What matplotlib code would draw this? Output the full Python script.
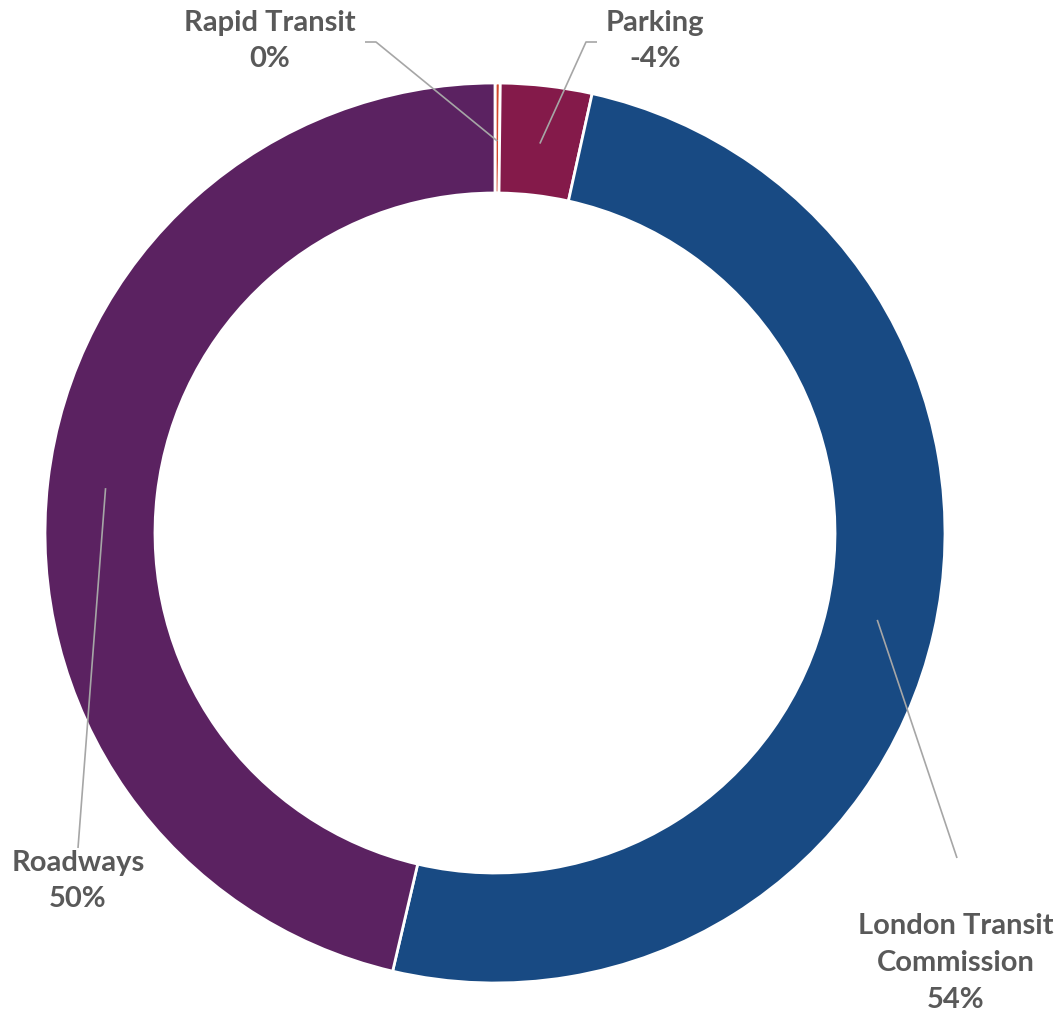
import numpy as np
import matplotlib.pyplot as plt

# budget share by service area (signed values, parking is negative)
categories = ["Rapid Transit", "Parking", "London Transit\nCommission", "Roadways"]
values = [0.2, -3.5, 53.6, 49.5]
colors = ["#D2462A", "#841A4A", "#184A83", "#5B2261"]

W, H = 1061, 1018
CX, CY = 495, H - 533
R_OUT, R_IN = 450, 340

fig = plt.figure(figsize=(W / 100, H / 100), dpi=100)
ax = fig.add_axes([0, 0, 1, 1])

sizes = np.abs(values)
wedges, _ = ax.pie(sizes, colors=colors, startangle=90, counterclock=False,
                   center=(CX, CY), radius=R_OUT, frame=True,
                   wedgeprops=dict(width=R_OUT - R_IN, edgecolor="white", linewidth=2))
ax.set_xlim(0, W)
ax.set_ylim(0, H)
ax.axis("off")

total = sum(values)
pcts = [round(v / total * 100) for v in values]

# label text position and leader elbow (pixel coords from top-left)
label_pos = [(270, 41), (655, 41), (956, 963), (78, 881)]
elbows = [[(365, 42), (376, 42)], [(597, 42), (586, 42)], [(957, 858)], [(78, 848)]]

txt_color = "#595959"
line_color = "#A6A6A6"
for w, name, p, (lx, ly), elb in zip(wedges, categories, pcts, label_pos, elbows):
    mid = np.deg2rad((w.theta1 + w.theta2) / 2)
    r_a = 392
    ax_x = CX + r_a * np.cos(mid)
    ax_y = CY + r_a * np.sin(mid)
    pts = [(x, H - y) for x, y in elb] + [(ax_x, ax_y)]
    xs, ys = zip(*pts)
    ax.plot(xs, ys, color=line_color, lw=1.2, solid_capstyle="butt")
    ax.text(lx, H - ly, f"{name}\n{p}%", ha="center", va="center",
            fontsize=21, fontweight="bold", color=txt_color,
            family=["Lato", "DejaVu Sans"], linespacing=1.5)

fig.savefig("out.png", dpi=100)
